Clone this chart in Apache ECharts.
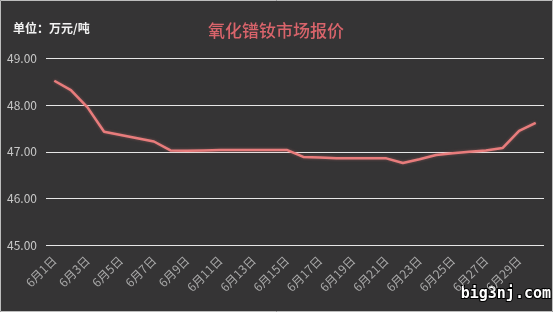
<!DOCTYPE html>
<html>
<head>
<meta charset="utf-8">
<script src="https://cdn.jsdelivr.net/npm/echarts@6/dist/echarts.min.js"></script>
<style>
html,body{margin:0;padding:0;background:#353435;}
#c{width:553px;height:312px;}
</style>
</head>
<body>
<div id="c"></div>
<script>
var categories = [];
for (var d = 1; d <= 30; d++) categories.push('6月' + d + '日');
var prices = [48.52, 48.32, 47.95, 47.43, 47.36, 47.29, 47.22, 47.03, 47.02, 47.03,
              47.04, 47.04, 47.04, 47.04, 47.04, 46.89, 46.88, 46.86, 46.86, 46.86,
              46.86, 46.76, 46.84, 46.93, 46.97, 47.00, 47.03, 47.08, 47.45, 47.62];
var titleText = '氧化镨钕市场报价';
var unitText = '单位：万元/吨';
var watermark = 'big3nj.com';

var chart = echarts.init(document.getElementById('c'), null, {renderer: 'canvas'});
var font = '"Noto Sans CJK SC", "Noto Sans", sans-serif';
chart.setOption({
  backgroundColor: '#353435',
  animation: false,
  title: {
    text: titleText,
    left: 271, top: 17, textAlign: 'center',
    textStyle: {color: '#d9646b', fontSize: 17, fontWeight: 500, fontFamily: font}
  },
  grid: {left: 46, right: 9, top: 58.3, bottom: 66.7},
  xAxis: {
    type: 'category',
    data: categories,
    boundaryGap: true,
    axisLine: {show: false},
    axisTick: {show: false},
    axisLabel: {interval: 1, rotate: 45, color: '#a8a8a8', fontSize: 12, margin: 13, fontFamily: font}
  },
  yAxis: {
    type: 'value',
    min: 45, max: 49, interval: 1,
    axisLine: {show: false},
    axisTick: {show: false},
    axisLabel: {color: '#c8c8c8', fontSize: 12, margin: 9, fontFamily: font,
      formatter: function (v) { return v.toFixed(2); }},
    splitLine: {lineStyle: {color: '#e6e6e6', width: 1}}
  },
  series: [{
    type: 'line',
    data: prices,
    symbol: 'none',
    lineStyle: {color: '#e87c7c', width: 2.5, shadowColor: 'rgba(232,124,124,0.4)', shadowBlur: 3}
  }],
  graphic: [
    {type: 'text', left: 13, top: 22,
     style: {text: unitText, fill: '#f2f2f2', font: 'bold 12px ' + font}},
    {type: 'text', right: 1, top: 286,
     style: {text: watermark, fill: '#ffffff', stroke: '#000', lineWidth: 2,
             font: 'bold 15px "DejaVu Sans Mono", monospace'}},
    {type: 'rect', shape: {x: 0.5, y: 0.5, width: 552, height: 311},
     style: {fill: 'none', stroke: '#bdbdbd', lineWidth: 1}, z: 100}
  ]
});
</script>
</body>
</html>
